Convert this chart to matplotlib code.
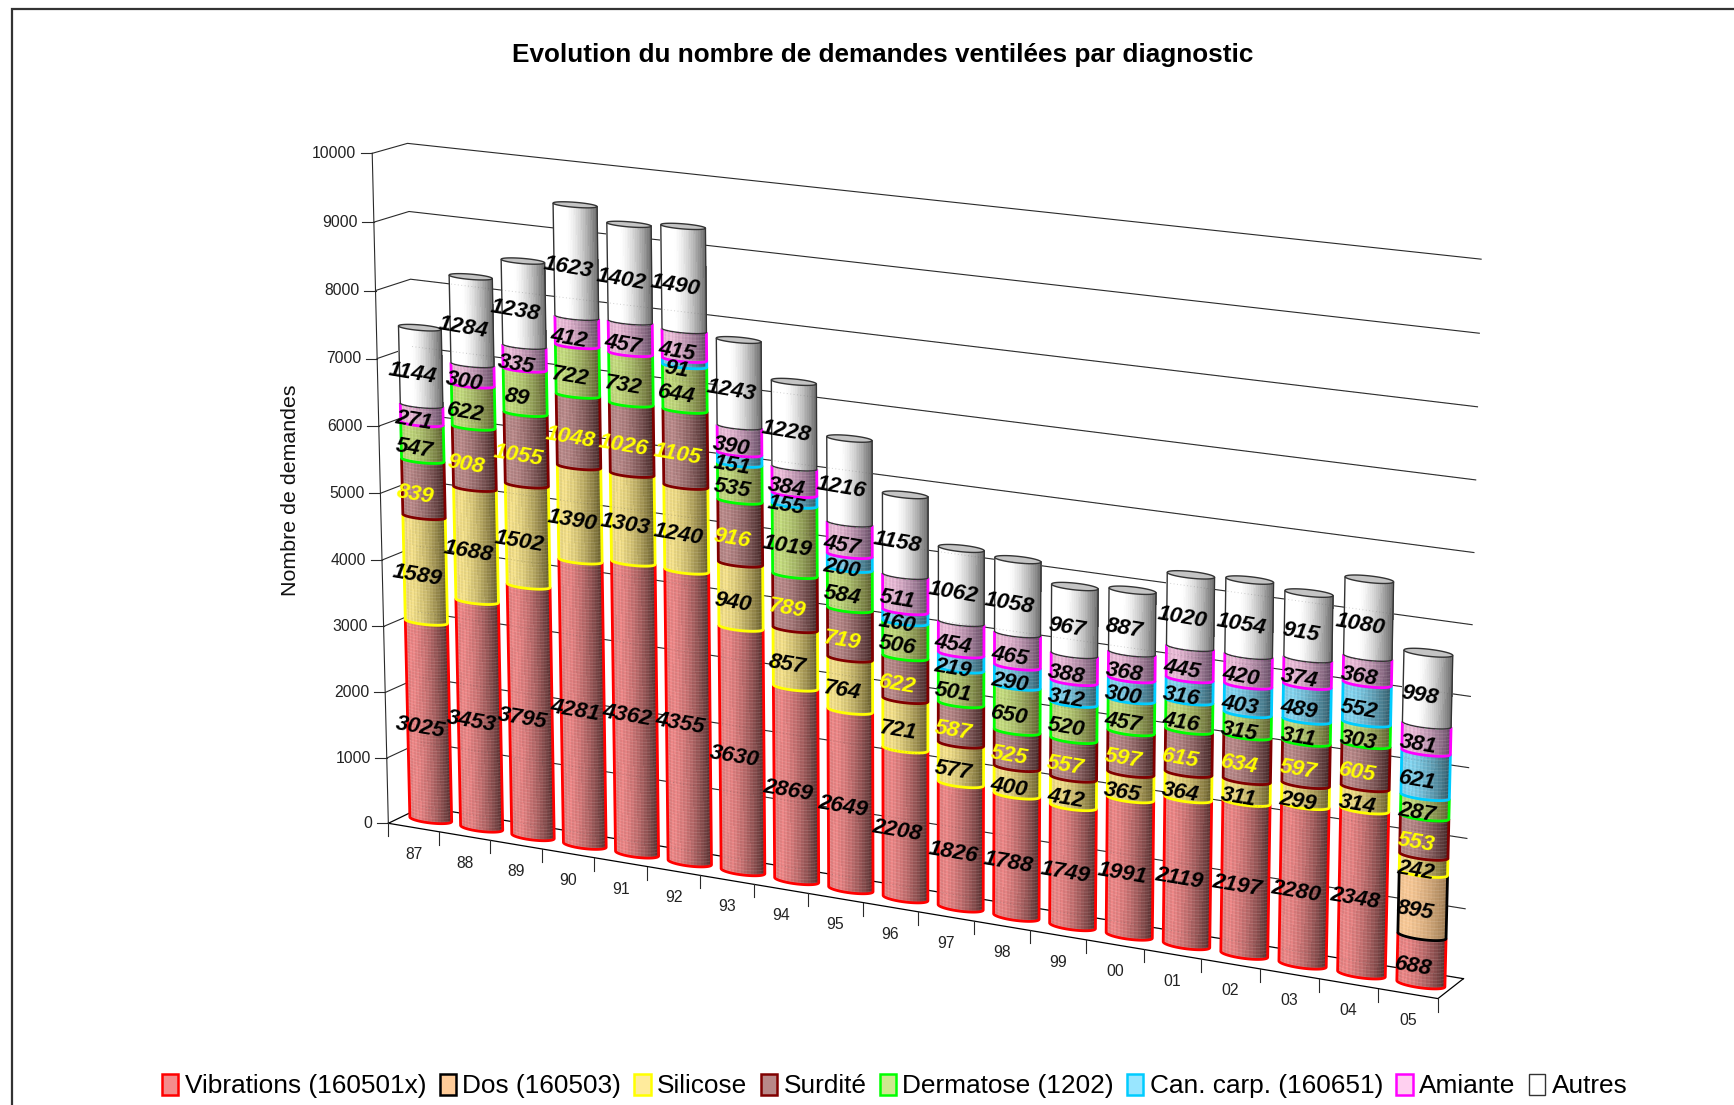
import numpy as np
import matplotlib
matplotlib.use("Agg")
import matplotlib.pyplot as plt
from matplotlib.collections import PolyCollection, LineCollection
from matplotlib.patches import Patch, Polygon

plt.rcParams['font.family'] = ['Liberation Sans', 'DejaVu Sans']

# ---------- data ----------
years = ['87','88','89','90','91','92','93','94','95','96','97','98','99','00','01','02','03','04','05']
vibrations = [3025,3453,3795,4281,4362,4355,3630,2869,2649,2208,1826,1788,1749,1991,2119,2197,2280,2348,688]
dos        = [0,0,0,0,0,0,0,0,0,0,0,0,0,0,0,0,0,0,895]
silicose   = [1589,1688,1502,1390,1303,1240,940,857,764,721,577,400,412,365,364,311,299,314,242]
surdite    = [839,908,1055,1048,1026,1105,916,789,719,622,587,525,557,597,615,634,597,605,553]
dermatose  = [547,622,89,722,732,644,535,1019,584,506,501,650,520,457,416,315,311,303,287]
can_carp   = [0,0,0,0,0,91,151,155,200,160,219,290,312,300,316,403,489,552,621]
amiante    = [271,300,335,412,457,415,390,384,457,511,454,465,388,368,445,420,374,368,381]
autres     = [1144,1284,1238,1623,1402,1490,1243,1228,1216,1158,1062,1058,967,887,1020,1054,915,1080,998]
# the 1989 dermatose label reads 89, but its drawn height is that of about 650
dermatose_height_89 = 650

names = ['Vibrations (160501x)','Dos (160503)','Silicose','Surdité','Dermatose (1202)',
         'Can. carp. (160651)','Amiante','Autres']
y_ticks = [0,1000,2000,3000,4000,5000,6000,7000,8000,9000,10000]

# ---------- styles ----------
edge  = ['#ff0000','#000000','#ffff00','#800000','#00ff00','#00ccff','#ff00ff','#333333']
light = ['#f08888','#fbcb98','#f8e48c','#bd8c8c','#c6de80','#86d8f4','#f0c0dc','#ffffff']
dark  = ['#4e2c2c','#9a7850','#5e5426','#3e2222','#58582a','#2e5462','#5c445c','#707070']
swatch= ['#e88080','#ffcc99','#f0dc88','#a87878','#bcd478','#80d0ec','#e8b8d8','#ffffff']
legend_fill = ['#f48c8c','#ffcc99','#ffeb9c','#b88888','#cfe88f','#99e6ff','#ffd0f0','#ffffff']
txtcol= ['black','black','black','#ffff00','black','black','black','black']

W, H = 1734, 1105
fig = plt.figure(figsize=(W/100, H/100), dpi=100)
ax = fig.add_axes([0, 0, 1, 1])
ax.set_xlim(0, W); ax.set_ylim(H, 0); ax.axis('off')

# ---------- projection of the 3-D box (t along years, d depth, v value) ----------
n = len(years)
calib = [((0,0,0),(387.7,823.3)),((0,0,1),(372.7,153.3)),((0,0,.5),(380.7,493.3)),
         ((0,1,0),(423,806)),((0,1,1),(406.7,143.3)),((0,1,.7),(412.3,346.7)),
         ((1,0,0),(1438.3,997.7)),((1,1,0),(1463.3,979.3)),((1,1,1),(1481,259)),
         ((1,1,.5),(1472.3,625)),((6/19,0,0),(700.3,876.7)),((17/19,0,0),(1318.3,978.3)),
         ((1/19,0,0),(439,831.7))]
A = []
for (t,d,v),(x,y) in calib:
    A.append([t,d,v,1,0,0,0,0,-x*t,-x*d,-x*v,-x])
    A.append([0,0,0,0,t,d,v,1,-y*t,-y*d,-y*v,-y])
P = np.linalg.svd(np.array(A))[2][-1].reshape(3,4)

def proj(t, d, v):
    t, d, v = np.broadcast_arrays(np.asarray(t,float), np.asarray(d,float), np.asarray(v,float)/10000)
    q = P @ np.stack([t, d, v, np.ones_like(t)])
    return q[0]/q[2], q[1]/q[2]

RT, RD, DC = 0.395, 0.18, 0.5
def ring(i, v, th):
    return proj((i+.5+RT*np.cos(th))/n, DC+RD*np.sin(th), v)

LINE = '#2a2a2a'
# frame
ax.plot([W, 12, 12], [9, 9, H], color='#333333', lw=1.6, solid_joinstyle='miter')

# walls, floor and grid
for v in y_ticks:
    x, y = proj([0,0,1], [0,1,1], v)
    if v > 0:
        ax.plot(x, y, color=LINE, lw=0.8, zorder=1)
    else:
        ax.plot(x[:2], y[:2], color='black', lw=0.9, zorder=1)
        ax.plot(x[1:], y[1:], color='black', lw=0.9, zorder=1)
    fx, fy = proj(0, 0, v)
    ax.plot([fx-11.5, fx], [fy, fy], color=LINE, lw=0.8, zorder=1)
    ax.text(fx-16, fy, str(v), ha='right', va='center', fontsize=11.3, color='#222222')
x, y = proj([0,0],[0,0],[0,10000]); ax.plot(x, y, color=LINE, lw=0.8, zorder=1)
x, y = proj([0,1,1],[0,0,1],[0,0,0]); ax.plot(x, y, color='black', lw=0.9, zorder=1)
for k in range(n+1):
    fx, fy = proj(k/n, 0, 0)
    ax.plot([fx, fx], [fy, fy+13], color=LINE, lw=0.8, zorder=1)
for k, lab in enumerate(years):
    fx, fy = proj((k+.5)/n, 0, 0)
    ax.text(fx, fy+27, lab, ha='center', va='center', fontsize=11.3, color='#222222')

# ---------- cylinders ----------
series = [vibrations, dos, silicose, surdite, dermatose, can_carp, amiante, autres]
M = 26
us = np.linspace(0, 1, M+1)
def shade(u, s):
    if s == 7:
        return np.clip(1.0 - np.clip((u-0.3)/0.7, 0, 1)**1.5, 0, 1)
    return np.clip(1.0 - 0.08*np.clip((0.18-u)/0.18,0,1) - 0.95*np.clip((u-0.15)/0.85,0,1)**1.5, 0, 1)

z = 10
labels = []
for i in range(n):
    grid = np.linspace(np.pi/2, 2.5*np.pi, 1441)[:-1]
    gx, _ = ring(i, 0, grid)
    th_l, th_r = grid[np.argmin(gx)], grid[np.argmax(gx)]
    ths = th_l + np.arccos(1-2*us)
    arc = np.linspace(th_l, th_r, 60)
    rear = np.linspace(th_r - np.pi, th_r, 40)   # back half of a ring
    base = 0.0
    prev_edge = None
    for s, ser in enumerate(series):
        val = ser[i]
        if val == 0:
            continue
        h = dermatose_height_89 if (s == 4 and years[i] == '89') else val
        v0, v1 = base, base+h
        x0, y0 = ring(i, v0, ths); x1, y1 = ring(i, v1, ths)
        polys, cols = [], []
        for m in range(M):
            polys.append([(x0[m],y0[m]),(x0[m+1],y0[m+1]),(x1[m+1],y1[m+1]),(x1[m],y1[m])])
            f = shade((us[m]+us[m+1])/2, s) * (1.0 if m % 2 or s == 7 else 0.9)
            cols.append(np.array(matplotlib.colors.to_rgb(dark[s]))*(1-f)+np.array(matplotlib.colors.to_rgb(light[s]))*f)
        ax0x, ay0 = ring(i, v0, arc); ax1x, ay1 = ring(i, v1, arc)
        ax.add_patch(Polygon(np.r_[np.c_[ax0x,ay0], np.c_[ax1x,ay1][::-1]], closed=True,
                             fc=swatch[s], ec='none', zorder=z)); z += 1
        ax.add_collection(PolyCollection(polys, facecolors=cols, edgecolors=cols, linewidths=0.3,
                                         antialiaseds=False, zorder=z)); z += 1
        # fine stipple of the fill
        lw_tex = []
        px_per = abs(proj(0,0,0)[1]-proj(0,0,1000)[1])/1000
        for vv in np.arange(v0+25, v1-10, 3.2/px_per):
            tx, ty = ring(i, vv, arc)
            lw_tex.append(np.c_[tx, ty])
        if lw_tex and s != 7:
            ax.add_collection(LineCollection(lw_tex, colors='white', linewidths=0.7, alpha=0.13, zorder=z)); z += 1
        # rear rim of the segment below, faintly visible through the white top segment
        if s == 7 and prev_edge is not None:
            rx, ry = ring(i, v0, rear)
            ax.plot(rx, ry, color=prev_edge, lw=1.4, ls=(0,(0.6,2.2)), alpha=0.35, zorder=z); z += 1
        # outline
        lx = np.r_[ax1x[0], ax0x, ax1x[-1]]; ly = np.r_[ay1[0], ay0, ay1[-1]]
        ax.plot(lx, ly, color=edge[s], lw=1.0 if s == 7 else 2.0, solid_capstyle='butt',
                solid_joinstyle='round', zorder=z); z += 1
        cx, cy = proj((i+.5)/n, DC, (v0+v1)/2)
        labels.append((cx-8, cy+7, str(val), txtcol[s]))
        base = v1
        prev_edge = edge[s]
    # top ellipse
    full = np.linspace(0, 2*np.pi, 80)
    ex, ey = ring(i, base, full)
    ax.add_patch(Polygon(np.c_[ex, ey], closed=True, fc='#c4c4c4', ec='#333333', lw=1.0, zorder=z)); z += 1

# grid showing faintly through the bars
for v in y_ticks[:9]:
    x, y = proj([0,1],[1,1],v)
    ax.plot(x, y, color='#555555', lw=0.7, ls=(0,(1,2.5)), alpha=0.28, zorder=z)
z += 1

for lx, ly, txt, c in labels:
    ax.text(lx, ly, txt, ha='center', va='center', rotation=-9.5, rotation_mode='anchor',
            fontsize=16.2, fontweight='bold', fontstyle='italic', color=c, zorder=z)

# ---------- texts ----------
ax.text(882.5, 55, 'Evolution du nombre de demandes ventilées par diagnostic', ha='center', va='center',
        fontsize=18.8, fontweight='bold', color='black')
ax.text(291, 490, 'Nombre de demandes', rotation=90, ha='center', va='center', fontsize=15.4, color='#111111')

handles = [Patch(facecolor=legend_fill[k], edgecolor=edge[k], linewidth=1.8 if k < 7 else 1.0) for k in range(8)]
ax.legend(handles, names, ncol=8, loc='center', bbox_to_anchor=(894.7, 1086), bbox_transform=ax.transData,
          frameon=False, fontsize=18.9, handlelength=0.62, handleheight=0.85, handletextpad=0.25,
          columnspacing=0.5, borderpad=0, borderaxespad=0, labelcolor='black')

fig.savefig('out.png', dpi=100, facecolor='white')
